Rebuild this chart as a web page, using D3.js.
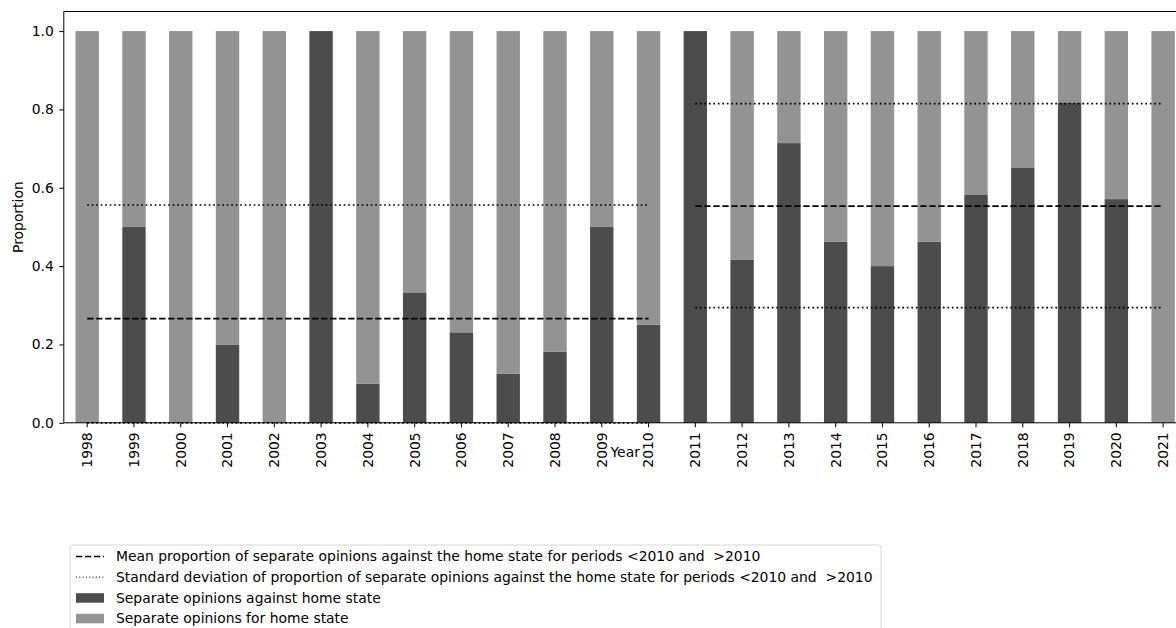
<!DOCTYPE html>
<html>
<head>
<meta charset="utf-8">
<script src="https://cdn.jsdelivr.net/npm/d3@7"></script>
<style>
  body { margin: 0; background: #fff; }
  svg { display: block; font-family: "DejaVu Sans", sans-serif; }
  text { white-space: pre; }
</style>
</head>
<body>
<svg id="drawing_region"></svg>
<script>
// years on the x axis
const years = ['1998','1999','2000','2001','2002','2003','2004','2005','2006','2007','2008','2009',
               '2010','2011','2012','2013','2014','2015','2016','2017','2018','2019','2020','2021'];

// share of separate opinions against / for the home state
const against = [0, 0.5, 0, 0.2, 0, 1.0, 0.1, 0.333, 0.231, 0.125, 0.182, 0.5,
                 0.25, 1.0, 0.417, 0.714, 0.462, 0.4, 0.462, 0.583, 0.652, 0.818, 0.571, 0];
const forHome = [1.0, 0.5, 1.0, 0.8, 1.0, 0, 0.9, 0.667, 0.769, 0.875, 0.818, 0.5,
                 0.75, 0, 0.583, 0.286, 0.538, 0.6, 0.538, 0.417, 0.348, 0.182, 0.429, 1.0];

// period summary lines (before / after 2010)
const periodStart = ['1998', '2011'];
const periodEnd = ['2010', '2021'];
const periodMean = [0.266, 0.553];
const periodStdLow = [0.0, 0.294];
const periodStdHigh = [0.556, 0.815];

const yTicks = [0, 0.2, 0.4, 0.6, 0.8, 1.0];

const legendLabels = [
  'Mean proportion of separate opinions against the home state for periods <2010 and  >2010',
  'Standard deviation of proportion of separate opinions against the home state for periods <2010 and  >2010',
  'Separate opinions against home state',
  'Separate opinions for home state'
];

const colAgainst = '#4c4c4c';
const colFor = '#939393';
const fontSize = 13.9;

const width = 1176, height = 628;
const margin = {top: 11.5, left: 63.8};
const innerW = 46.78 * years.length;
const innerH = 411.3;

const svg = d3.select('#drawing_region')
  .attr('width', width)
  .attr('height', height);

const chart = svg.append('g')
  .attr('transform', `translate(${margin.left}, ${margin.top})`);

const xscale = d3.scaleBand()
  .domain(years)
  .range([0, innerW])
  .paddingInner(0.5)
  .paddingOuter(0.25);

const yscale = d3.scaleLinear()
  .domain([0, 1.05])
  .range([innerH, 0]);

const bw = xscale.bandwidth();

// stacked bars
chart.append('g').selectAll('rect')
  .data(years)
  .join('rect')
  .attr('x', d => xscale(d))
  .attr('width', bw)
  .attr('y', (d, i) => yscale(against[i]))
  .attr('height', (d, i) => yscale(0) - yscale(against[i]))
  .attr('fill', colAgainst);

chart.append('g').selectAll('rect')
  .data(years)
  .join('rect')
  .attr('x', d => xscale(d))
  .attr('width', bw)
  .attr('y', (d, i) => yscale(against[i] + forHome[i]))
  .attr('height', (d, i) => yscale(against[i]) - yscale(against[i] + forHome[i]))
  .attr('fill', colFor);

// mean and std lines
const lines = chart.append('g');
periodStart.forEach((s, i) => {
  const x1 = xscale(s) + bw / 2;
  const x2 = xscale(periodEnd[i]) + bw / 2;
  [periodStdLow[i], periodStdHigh[i]].forEach(v => {
    lines.append('line')
      .attr('x1', x1).attr('x2', x2)
      .attr('y1', yscale(v)).attr('y2', yscale(v))
      .attr('stroke', '#000')
      .attr('stroke-width', 1.7)
      .attr('stroke-dasharray', '1.7,2.8');
  });
  lines.append('line')
    .attr('x1', x1).attr('x2', x2)
    .attr('y1', yscale(periodMean[i])).attr('y2', yscale(periodMean[i]))
    .attr('stroke', '#000')
    .attr('stroke-width', 1.7)
    .attr('stroke-dasharray', '6.3,2.7');
});

// axes
const yaxis = d3.axisLeft(yscale)
  .tickValues(yTicks)
  .tickFormat(d3.format('.1f'))
  .tickSize(4.5)
  .tickPadding(5.5);

const xaxis = d3.axisBottom(xscale)
  .tickSize(4.5)
  .tickPadding(0);

const yg = chart.append('g').call(yaxis);
const xg = chart.append('g')
  .attr('transform', `translate(0, ${innerH})`)
  .call(xaxis);

[yg, xg].forEach(g => {
  g.select('.domain').remove();
  g.selectAll('line').attr('stroke', '#000').attr('stroke-width', 1);
  g.selectAll('text').attr('font-size', fontSize).attr('fill', '#000')
    .attr('font-family', '"DejaVu Sans", sans-serif');
});

xg.selectAll('text')
  .attr('transform', 'rotate(-90)')
  .attr('text-anchor', 'end')
  .attr('x', -9.5)
  .attr('y', 0)
  .attr('dy', '0.35em');

// spines (left, top, bottom)
chart.append('path')
  .attr('d', `M${innerW},0H0V${innerH}H${innerW}`)
  .attr('fill', 'none')
  .attr('stroke', '#000')
  .attr('stroke-width', 1);

// axis titles
chart.append('text')
  .attr('x', innerW / 2)
  .attr('y', innerH + 34.5)
  .attr('text-anchor', 'middle')
  .attr('font-size', fontSize)
  .text('Year');

svg.append('text')
  .attr('transform', `translate(23, ${margin.top + innerH / 2}) rotate(-90)`)
  .attr('text-anchor', 'middle')
  .attr('font-size', fontSize)
  .text('Proportion');

// legend
const legend = svg.append('g').attr('transform', 'translate(70, 545)');
legend.append('rect')
  .attr('x', 0).attr('y', 0)
  .attr('width', 811).attr('height', 100)
  .attr('rx', 3)
  .attr('fill', '#fff')
  .attr('stroke', '#d6d6d6')
  .attr('stroke-width', 1);

legendLabels.forEach((label, i) => {
  const cy = 11.5 + i * 20.6;
  const row = legend.append('g');
  if (i === 0 || i === 1) {
    row.append('line')
      .attr('x1', 6).attr('x2', 34)
      .attr('y1', cy).attr('y2', cy)
      .attr('stroke', '#000')
      .attr('stroke-width', i === 0 ? 1.7 : 1)
      .attr('stroke-dasharray', i === 0 ? '6.3,2.7' : '1,2.3');
  } else {
    row.append('rect')
      .attr('x', 6).attr('y', cy - 4.5)
      .attr('width', 28).attr('height', 9.5)
      .attr('fill', i === 2 ? colAgainst : colFor);
  }
  row.append('text')
    .attr('x', 46)
    .attr('y', cy)
    .attr('dy', '0.35em')
    .attr('font-size', fontSize)
    .text(label);
});
</script>
</body>
</html>
